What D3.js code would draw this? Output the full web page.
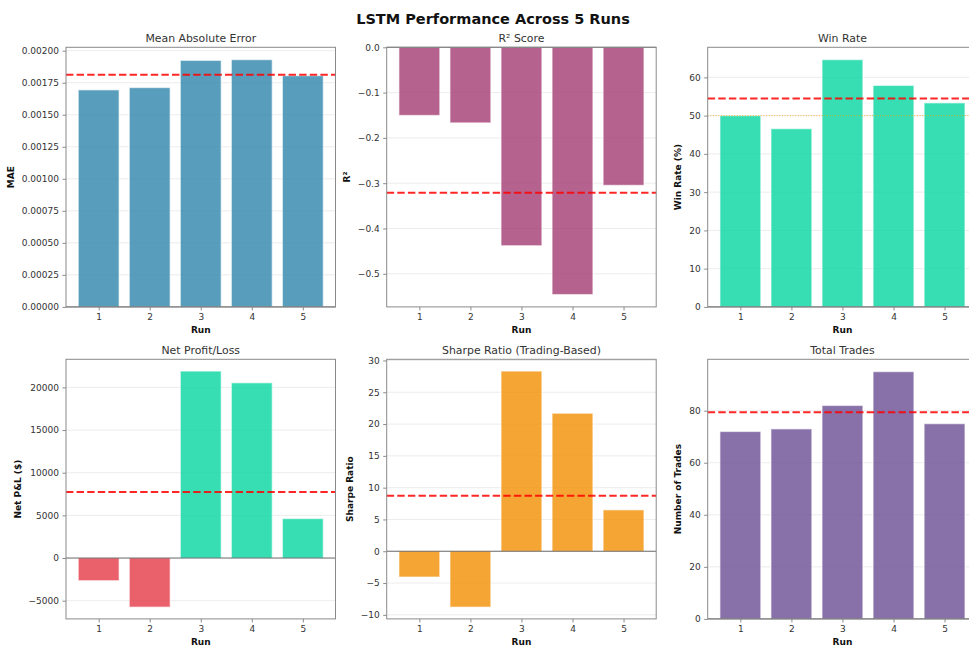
<!DOCTYPE html>
<html>
<head>
<meta charset="utf-8">
<script src="https://cdn.jsdelivr.net/npm/d3@7"></script>
<style>
  html, body { margin: 0; padding: 0; background: #ffffff; }
  svg { display: block; font-family: "DejaVu Sans", sans-serif; }
</style>
</head>
<body>
<svg id="chart" width="969" height="646"></svg>
<script>
// Run labels shared by every panel
const runs = ["1", "2", "3", "4", "5"];

// Per-run metrics
const maeValues = [0.001694, 0.001712, 0.001924, 0.001930, 0.001805];
const r2Values = [-0.1504, -0.1668, -0.4380, -0.5458, -0.3047];
const winRateValues = [50.00, 46.58, 64.63, 57.89, 53.33];
const pnlValues = [-2653, -5751, 21913, 20540, 4624];
const sharpeValues = [-4.05, -8.78, 28.33, 21.70, 6.51];
const tradeValues = [72, 73, 82, 95, 75];

// Tick values for each y axis
const maeTicks = [0, 0.00025, 0.0005, 0.00075, 0.001, 0.00125, 0.0015, 0.00175, 0.002];
const r2Ticks = [0, -0.1, -0.2, -0.3, -0.4, -0.5];
const winRateTicks = [0, 10, 20, 30, 40, 50, 60];
const pnlTicks = [-5000, 0, 5000, 10000, 15000, 20000];
const sharpeTicks = [-10, -5, 0, 5, 10, 15, 20, 25, 30];
const tradeTicks = [0, 20, 40, 60, 80];

// Reference level for the break-even win rate
const winRateBreakEven = 50;

const COLORS = {
  blue: "#2E86AB",
  plum: "#A23B72",
  green: "#06D6A0",
  red: "#E63946",
  orange: "#F18F01",
  purple: "#6A4C93"
};

const panels = [
  { title: "Mean Absolute Error", ylabel: "MAE", values: maeValues, ticks: maeTicks,
    fmt: d3.format(".5f"), color: () => COLORS.blue, col: 0, row: 0 },
  { title: "R\u00B2 Score", ylabel: "R\u00B2", values: r2Values, ticks: r2Ticks,
    fmt: d3.format(".1f"), color: () => COLORS.plum, col: 1, row: 0 },
  { title: "Win Rate", ylabel: "Win Rate (%)", values: winRateValues, ticks: winRateTicks,
    fmt: d3.format("d"), color: () => COLORS.green, col: 2, row: 0,
    refLine: winRateBreakEven },
  { title: "Net Profit/Loss", ylabel: "Net P&L ($)", values: pnlValues, ticks: pnlTicks,
    fmt: d3.format("d"), color: v => v >= 0 ? COLORS.green : COLORS.red, col: 0, row: 1 },
  { title: "Sharpe Ratio (Trading-Based)", ylabel: "Sharpe Ratio", values: sharpeValues, ticks: sharpeTicks,
    fmt: d3.format("d"), color: () => COLORS.orange, col: 1, row: 1 },
  { title: "Total Trades", ylabel: "Number of Trades", values: tradeValues, ticks: tradeTicks,
    fmt: d3.format("d"), color: () => COLORS.purple, col: 2, row: 1 }
];

const svg = d3.select("#chart");

// Grid of axes boxes
const colX = [66, 386.7, 707.7];
const rowY = [47.3, 359.3];
const axW = 269.5;
const axH = 259.6;

svg.append("text")
  .attr("x", 493)
  .attr("y", 24)
  .attr("text-anchor", "middle")
  .attr("font-size", 14.5)
  .attr("font-weight", "bold")
  .attr("fill", "#111")
  .text("LSTM Performance Across 5 Runs");

// y-domain padded like an autoscaled bar chart: bars are anchored at zero
function yDomain(values) {
  const lo = Math.min(0, d3.min(values));
  const hi = Math.max(0, d3.max(values));
  const span = hi - lo;
  return [lo < 0 ? lo - 0.05 * span : 0, hi > 0 ? hi + 0.05 * span : 0];
}

panels.forEach(p => {
  const g = svg.append("g")
    .attr("transform", `translate(${colX[p.col]},${rowY[p.row]})`);

  const x = d3.scaleLinear().domain([-0.64, runs.length - 1 + 0.64]).range([0, axW]);
  const y = d3.scaleLinear().domain(yDomain(p.values)).range([axH, 0]);
  const barW = x(0.8) - x(0);

  // light horizontal grid
  g.append("g").selectAll("line")
    .data(p.ticks)
    .join("line")
    .attr("x1", 0).attr("x2", axW)
    .attr("y1", d => y(d)).attr("y2", d => y(d))
    .attr("stroke", "#b0b0b0")
    .attr("stroke-opacity", 0.3)
    .attr("stroke-width", 0.8);

  // bars
  g.append("g").selectAll("rect")
    .data(p.values)
    .join("rect")
    .attr("x", (d, i) => x(i) - barW / 2)
    .attr("width", barW)
    .attr("y", d => y(Math.max(0, d)))
    .attr("height", d => Math.abs(y(d) - y(0)))
    .attr("fill", d => p.color(d))
    .attr("fill-opacity", 0.8)
    .attr("stroke", "#ffffff")
    .attr("stroke-opacity", 0.55)
    .attr("stroke-width", 1.2);

  // zero baseline
  g.append("line")
    .attr("x1", 0).attr("x2", axW)
    .attr("y1", y(0)).attr("y2", y(0))
    .attr("stroke", "#000")
    .attr("stroke-opacity", 0.55)
    .attr("stroke-width", 1);

  // break-even reference
  if (p.refLine !== undefined) {
    g.append("line")
      .attr("x1", 0).attr("x2", axW)
      .attr("y1", y(p.refLine)).attr("y2", y(p.refLine))
      .attr("stroke", "orange")
      .attr("stroke-opacity", 0.75)
      .attr("stroke-width", 1)
      .attr("stroke-dasharray", "1,1.65");
  }

  // mean across runs
  const mean = d3.mean(p.values);
  g.append("line")
    .attr("x1", 0).attr("x2", axW)
    .attr("y1", y(mean)).attr("y2", y(mean))
    .attr("stroke", "#ff0000")
    .attr("stroke-opacity", 0.85)
    .attr("stroke-width", 2)
    .attr("stroke-dasharray", "7.4,3.2");

  // frame
  g.append("rect")
    .attr("x", 0).attr("y", 0)
    .attr("width", axW).attr("height", axH)
    .attr("fill", "none")
    .attr("stroke", "#8a8a8a")
    .attr("stroke-width", 1);

  // y axis
  const yAxis = g.append("g")
    .call(d3.axisLeft(y).tickValues(p.ticks).tickFormat(p.fmt).tickSize(3.5).tickPadding(3.5));
  yAxis.select(".domain").remove();
  yAxis.selectAll(".tick line").attr("stroke", "#8a8a8a");
  yAxis.selectAll(".tick text")
    .attr("font-size", 9)
    .attr("fill", "#333")
    .attr("font-family", "DejaVu Sans, sans-serif");

  // x axis
  const xAxis = g.append("g")
    .attr("transform", `translate(0,${axH})`)
    .call(d3.axisBottom(x).tickValues(d3.range(runs.length)).tickFormat(i => runs[i]).tickSize(3.5).tickPadding(3.5));
  xAxis.select(".domain").remove();
  xAxis.selectAll(".tick line").attr("stroke", "#8a8a8a");
  xAxis.selectAll(".tick text")
    .attr("font-size", 9)
    .attr("fill", "#333")
    .attr("font-family", "DejaVu Sans, sans-serif");

  // y label placed beyond the widest tick label
  let maxW = 0;
  yAxis.selectAll(".tick text").each(function () {
    maxW = Math.max(maxW, this.getBBox().width);
  });
  const labelX = -3.5 - 3.5 - maxW - 4 - 3.5;
  g.append("text")
    .attr("transform", `translate(${labelX},${axH / 2}) rotate(-90)`)
    .attr("text-anchor", "middle")
    .attr("font-size", 9)
    .attr("font-weight", "bold")
    .attr("fill", "#111")
    .text(p.ylabel);

  g.append("text")
    .attr("x", axW / 2)
    .attr("y", axH + 26.5)
    .attr("text-anchor", "middle")
    .attr("font-size", 9)
    .attr("font-weight", "bold")
    .attr("fill", "#111")
    .text("Run");

  g.append("text")
    .attr("x", axW / 2)
    .attr("y", -5.5)
    .attr("text-anchor", "middle")
    .attr("font-size", 10.9)
    .attr("fill", "#333")
    .text(p.title);
});
</script>
</body>
</html>
